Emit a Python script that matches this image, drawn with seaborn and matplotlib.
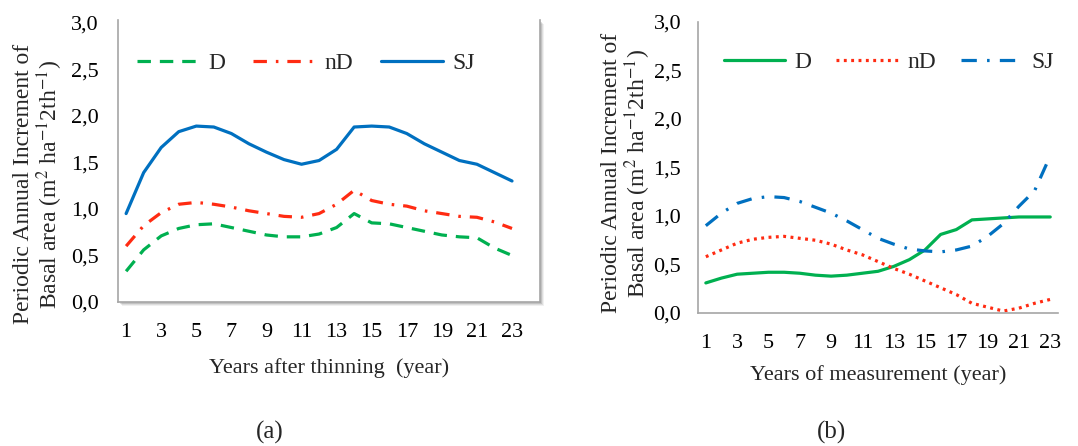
import numpy as np
import pandas as pd
import seaborn as sns
import matplotlib.pyplot as plt
from matplotlib.patches import Rectangle

years = list(range(1, 24))
tick_years = list(range(1, 24, 2))
y_ticks = [0.0, 0.5, 1.0, 1.5, 2.0, 2.5, 3.0]
y_tick_labels = ['0,0', '0,5', '1,0', '1,5', '2,0', '2,5', '3,0']

# (a) years after thinning
a_D = [0.33, 0.56, 0.71, 0.79, 0.83, 0.84, 0.80, 0.76, 0.72, 0.70, 0.70, 0.73,
       0.80, 0.95, 0.85, 0.84, 0.80, 0.76, 0.72, 0.70, 0.69, 0.58, 0.50]
a_nD = [0.60, 0.82, 0.96, 1.05, 1.07, 1.05, 1.02, 0.98, 0.95, 0.92, 0.91, 0.95,
        1.05, 1.20, 1.09, 1.05, 1.03, 0.98, 0.95, 0.92, 0.91, 0.86, 0.79]
a_SJ = [0.95, 1.39, 1.66, 1.83, 1.89, 1.88, 1.81, 1.70, 1.61, 1.53, 1.48, 1.52,
        1.64, 1.88, 1.89, 1.88, 1.81, 1.70, 1.61, 1.52, 1.48, 1.39, 1.30]

# (b) years of measurement
b_D = [0.31, 0.36, 0.40, 0.41, 0.42, 0.42, 0.41, 0.39, 0.38, 0.39, 0.41, 0.43,
       0.48, 0.55, 0.65, 0.81, 0.86, 0.96, 0.97, 0.98, 0.99, 0.99, 0.99]
b_nD = [0.58, 0.65, 0.72, 0.76, 0.78, 0.79, 0.77, 0.75, 0.71, 0.65, 0.60, 0.53,
        0.46, 0.40, 0.33, 0.26, 0.19, 0.10, 0.06, 0.02, 0.05, 0.10, 0.14]
b_SJ = [0.90, 1.03, 1.13, 1.18, 1.20, 1.19, 1.15, 1.09, 1.03, 0.95, 0.86, 0.77,
        0.71, 0.66, 0.64, 0.63, 0.65, 0.69, 0.79, 0.92, 1.10, 1.26, 1.62]

green = '#00B050'
red = '#FF2B12'
blue = '#0070C0'

sns.set_theme(style='white')
plt.rcParams['font.family'] = ['Liberation Serif', 'DejaVu Serif']
plt.rcParams['mathtext.fontset'] = 'stix'

fig = plt.figure(figsize=(10.78, 4.46), dpi=100)
ax1 = fig.add_axes([0.1095, 0.3229, 0.3915, 0.6323])
ax2 = fig.add_axes([0.6475, 0.2982, 0.334, 0.6525])

lw = 2.3
ylab = 'Periodic Annual Increment of\nBasal area (m$^{2}$ ha$^{-1}$2th$^{-1}$)'

# panel (a)
sns.lineplot(x=years, y=a_D, ax=ax1, color=green, lw=lw, linestyle=(0, (4.2, 2.8)), label='D')
sns.lineplot(x=years, y=a_nD, ax=ax1, color=red, lw=lw, linestyle=(0, (4.2, 2.8, 0.8, 2.8)), label='nD')
sns.lineplot(x=years, y=a_SJ, ax=ax1, color=blue, lw=lw, linestyle='-', label='SJ')
ax1.set_xlim(0.54, 24.6)
ax1.set_ylim(0, 3.03)

# panel (b)
sns.lineplot(x=years, y=b_D, ax=ax2, color=green, lw=lw, linestyle='-', label='D')
sns.lineplot(x=years, y=b_nD, ax=ax2, color=red, lw=lw, linestyle=(0, (0.9, 1.4)), label='nD')
sns.lineplot(x=years, y=b_SJ, ax=ax2, color=blue, lw=lw, linestyle=(0, (4.8, 3.2, 0.8, 3.2)), label='SJ')
ax2.set_xlim(0.5, 23.5)
ax2.set_ylim(0, 3.0)

for ax in (ax1, ax2):
    ax.set_xticks(tick_years)
    ax.set_xticklabels([str(t) for t in tick_years])
    ax.set_yticks(y_ticks)
    ax.set_yticklabels(y_tick_labels)
    ax.tick_params(axis='both', length=0, labelsize=16, colors='black')
    ax.tick_params(axis='x', pad=15)
    ax.grid(False)
    ax.set_ylabel(ylab, fontsize=17, linespacing=1.0)
    for s in ax.spines.values():
        s.set_color('#A6A6A6')
        s.set_linewidth(1.2)
    ax.spines['top'].set_visible(False)

ax1.tick_params(axis='y', pad=14)
ax2.tick_params(axis='y', pad=12)
ax2.spines['right'].set_visible(False)

ax1.set_xlabel('Years after thinning  (year)', fontsize=16, labelpad=12)
ax2.set_xlabel('Years of measurement (year)', fontsize=16, labelpad=9)
ax1.yaxis.set_label_coords(65 / 1078, 1 - 184 / 446, transform=fig.transFigure)
ax2.yaxis.set_label_coords(653 / 1078, 1 - 173 / 446, transform=fig.transFigure)

for ax, anchor, cs in ((ax1, (0.445, 0.847), 1.2), (ax2, (0.53, 0.862), 1.05)):
    ax.legend(loc='center', bbox_to_anchor=anchor, ncol=3, frameon=False,
              fontsize=17, handlelength=2.6, handletextpad=0.4, columnspacing=cs)

# drop shadow around panel (a) plot area
for off, alpha in ((4, 0.06), (3, 0.08), (2, 0.12)):
    fig.patches.append(Rectangle((118 + off, 446 - 302 - off), 422, 282,
                                 transform=None, facecolor='black', alpha=alpha,
                                 edgecolor='none', zorder=-1))
fig.patches.append(Rectangle((118, 446 - 302), 422, 282, transform=None,
                             facecolor='white', edgecolor='none', zorder=-0.5))
ax1.patch.set_alpha(0)

fig.text(270 / 1078, 1 - 432 / 446, '(a)', fontsize=18, ha='center', va='center')
fig.text(831 / 1078, 1 - 432 / 446, '(b)', fontsize=18, ha='center', va='center')

fig.savefig('out.png', dpi=100)
